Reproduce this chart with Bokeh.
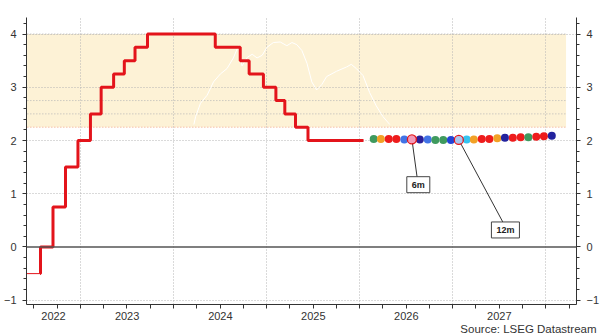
import pandas as pd
from bokeh.plotting import figure
from bokeh.models import (FixedTicker, LinearAxis, Span, Label, CustomJSTickFormatter, Range1d, Title)
from bokeh.embed import file_html
from bokeh.resources import INLINE

# ---------------- data ----------------
# ECB deposit rate (step changes)
pre_dates = ["2022-05-01", "2022-07-25"]
pre_values = [-0.5, -0.5]
rate_dates = ["2022-07-25", "2022-07-27", "2022-09-14", "2022-11-02", "2022-12-21", "2023-02-08",
              "2023-03-22", "2023-05-10", "2023-06-21", "2023-08-02", "2023-09-20", "2024-06-12",
              "2024-09-18", "2024-10-23", "2024-12-18", "2025-02-05", "2025-03-12", "2025-04-23",
              "2025-06-11", "2026-01-15"]
rate_values = [-0.5, 0.0, 0.75, 1.5, 2.0, 2.5, 3.0, 3.25, 3.5, 3.75, 4.0, 3.75,
               3.5, 3.25, 3.0, 2.75, 2.5, 2.25, 2.0, 2.0]

# white market series (visible over band only)
white_dates = ["2024-03-20", "2024-03-27", "2024-04-15", "2024-05-11", "2024-06-05", "2024-07-02",
               "2024-07-28", "2024-08-22", "2024-09-11", "2024-09-25", "2024-10-15", "2024-11-04",
               "2024-11-23", "2024-12-13", "2025-01-01", "2025-01-26", "2025-02-22", "2025-03-20",
               "2025-04-09", "2025-04-28", "2025-05-18", "2025-06-07", "2025-06-26", "2025-07-15",
               "2025-08-04", "2025-08-23", "2025-10-01", "2025-11-09", "2025-11-28", "2025-12-18",
               "2026-01-13", "2026-02-08", "2026-03-06", "2026-04-01", "2026-04-28"]
white_values = [2.3, 2.45, 2.7, 2.85, 3.1, 3.25, 3.35, 3.55, 3.78, 3.4, 3.56, 3.62,
                3.55, 3.6, 3.75, 3.84, 3.85, 3.78, 3.84, 3.8, 3.69, 3.45, 3.1, 2.95,
                3.05, 3.2, 3.3, 3.38, 3.43, 3.35, 3.22, 2.9, 2.65, 2.45, 2.3]

# market-implied forward rates (monthly)
fwd_dates = ["2026-02-24", "2026-03-24", "2026-04-24", "2026-05-24", "2026-06-24", "2026-07-24",
             "2026-08-24", "2026-09-24", "2026-10-24", "2026-11-24", "2026-12-24", "2027-01-24",
             "2027-02-24", "2027-03-24", "2027-04-24", "2027-05-24", "2027-06-24", "2027-07-24",
             "2027-08-24", "2027-09-24", "2027-10-24", "2027-11-24", "2027-12-24", "2028-01-24"]
fwd_values = [2.03, 2.03, 2.03, 2.03, 2.02, 2.02, 2.02, 2.02, 2.01, 2.01, 2.01, 2.01,
              2.02, 2.02, 2.03, 2.03, 2.04, 2.05, 2.05, 2.06, 2.06, 2.07, 2.08, 2.09]
fwd_colors = ["#3f9a5e", "#f2a126", "#ee1c1c", "#ee1c1c", "#4173e6", "#f39ab8",
              "#2a1f9a", "#4173e6", "#3f9a5e", "#3f9a5e", "#2344d6", "#aac6ee",
              "#34c3f0", "#f2a126", "#ee1c1c", "#ee1c1c", "#f2a126", "#23239e",
              "#ee1c1c", "#ee1c1c", "#3f9a5e", "#ee1c1c", "#ee1c1c", "#23239e"]
fwd_marked = ["", "", "", "", "", "6m", "", "", "", "", "", "12m",
              "", "", "", "", "", "", "", "", "", "", "", ""]

# shaded range
band_dates = ["2022-05-01", "2028-03-20"]
band_low = [2.25, 2.25]
band_high = [4.0, 4.0]
band_lines = [4.0, 2.75, 2.5, 2.25]

# call-out boxes
callout_text = ["6m", "12m"]
callout_dates = ["2026-08-18", "2027-07-26"]
callout_values = [1.17, 0.32]
leader_end_dates = ["2026-08-14", "2027-07-19"]
leader_end_values = [1.285, 0.44]

source_text = "Source: LSEG Datastream"

year_labels_at = ["2022-09-16", "2023-07-02", "2024-07-02", "2025-07-02", "2026-07-02", "2027-07-02"]
year_starts = ["2023-01-01", "2024-01-01", "2025-01-01", "2026-01-01", "2027-01-01", "2028-01-01"]
y_major = [-1, 0, 1, 2, 3, 4]


def ms(d):
    return pd.Timestamp(d).value / 1e6


def msl(lst):
    return [ms(d) for d in lst]


quarters = msl(pd.date_range("2022-07-01", "2028-04-01", freq="QS"))
y_minor = [round(-1.2 + 0.2 * i, 2) for i in range(29)]

FONT = "Liberation Sans"
TXT = "#333333"
GRID = "#b5b5b5"

p = figure(width=602, height=334, x_axis_type="datetime", output_backend="svg",
           toolbar_location=None,
           x_range=Range1d(ms("2022-06-02"), ms("2028-04-30")),
           y_range=Range1d(-1.08, 4.31),
           min_border_left=25, min_border_right=24, min_border_top=17, min_border_bottom=30)
p.outline_line_color = None
p.background_fill_color = "white"
p.border_fill_color = "white"

# grids
p.xgrid.ticker = FixedTicker(ticks=msl(year_starts))
p.ygrid.ticker = FixedTicker(ticks=[-1, 1, 2, 3, 4])
for g in (p.xgrid[0], p.ygrid[0]):
    g.grid_line_color = GRID
    g.grid_line_dash = "1 2"
    g.grid_line_width = 1

# x axis
xa = p.xaxis[0]
xa.ticker = FixedTicker(ticks=msl(year_labels_at), minor_ticks=quarters)
xa.formatter = CustomJSTickFormatter(code="return String(new Date(tick).getUTCFullYear());")
xa.major_tick_out = 0
xa.major_tick_in = 0
xa.minor_tick_out = 4
xa.minor_tick_in = 0
xa.major_label_standoff = 3

yticker = FixedTicker(ticks=y_major, minor_ticks=y_minor)
ya = p.yaxis[0]
ra = LinearAxis()
p.add_layout(ra, "right")
for ax in (ya, ra):
    ax.ticker = yticker
    ax.major_tick_out = 4
    ax.major_tick_in = 0
    ax.minor_tick_out = 3
    ax.minor_tick_in = 0
    ax.major_label_standoff = 6
for ax in (xa, ya, ra):
    ax.axis_line_color = TXT
    ax.major_tick_line_color = TXT
    ax.minor_tick_line_color = TXT
    ax.major_label_text_color = TXT
    ax.major_label_text_font = FONT
    ax.major_label_text_font_size = "11px"

# source line
p.add_layout(Title(text=source_text, align="right", offset=-20, standoff=-3,
                   text_font=FONT, text_font_size="11.5px", text_font_style="normal",
                   text_color=TXT), "below")

# band
p.varea(x=msl(band_dates), y1=band_low, y2=band_high, fill_color="#fdf2d6", level="image")
for lvl in band_lines:
    col = "#f0a58a" if lvl == min(band_lines) else GRID
    p.line(x=msl(band_dates), y=[lvl, lvl], line_color=col, line_dash="1 2", line_width=1)

# zero line
p.add_layout(Span(location=0, dimension="width", line_color="#555555", line_width=1.5))

# white series
p.line(x=msl(white_dates), y=white_values, line_color="white", line_width=1)

# policy rate
p.line(x=msl(pre_dates), y=pre_values, line_color="#e3141b", line_width=1)
p.step(x=msl(rate_dates), y=rate_values, mode="after", line_color="#e3141b", line_width=3)

# leaders
fwd_ms = msl(fwd_dates)
lead_x0 = [fwd_ms[fwd_marked.index(t)] for t in callout_text]
lead_y0 = [fwd_values[fwd_marked.index(t)] for t in callout_text]
p.segment(x0=lead_x0, y0=lead_y0, x1=msl(leader_end_dates), y1=leader_end_values,
          line_color="#333333", line_width=1)

# forward dots
p.scatter(x=fwd_ms, y=fwd_values, size=8, fill_color=fwd_colors, line_color=None)
mk_x = [x for x, m in zip(fwd_ms, fwd_marked) if m]
mk_y = [y for y, m in zip(fwd_values, fwd_marked) if m]
p.scatter(x=mk_x, y=mk_y, size=9, fill_color=None, line_color="#e3141b", line_width=1.3)

for t, d, v in zip(callout_text, callout_dates, callout_values):
    p.add_layout(Label(x=ms(d), y=v, text=t, text_align="center", text_baseline="middle",
                       text_font=FONT, text_font_size="9px", text_font_style="bold",
                       text_color="#222222", background_fill_color="white",
                       border_line_color="#444444", border_line_width=1, padding=(5, 3)))

open("out.html", "w").write(file_html(p, INLINE))
